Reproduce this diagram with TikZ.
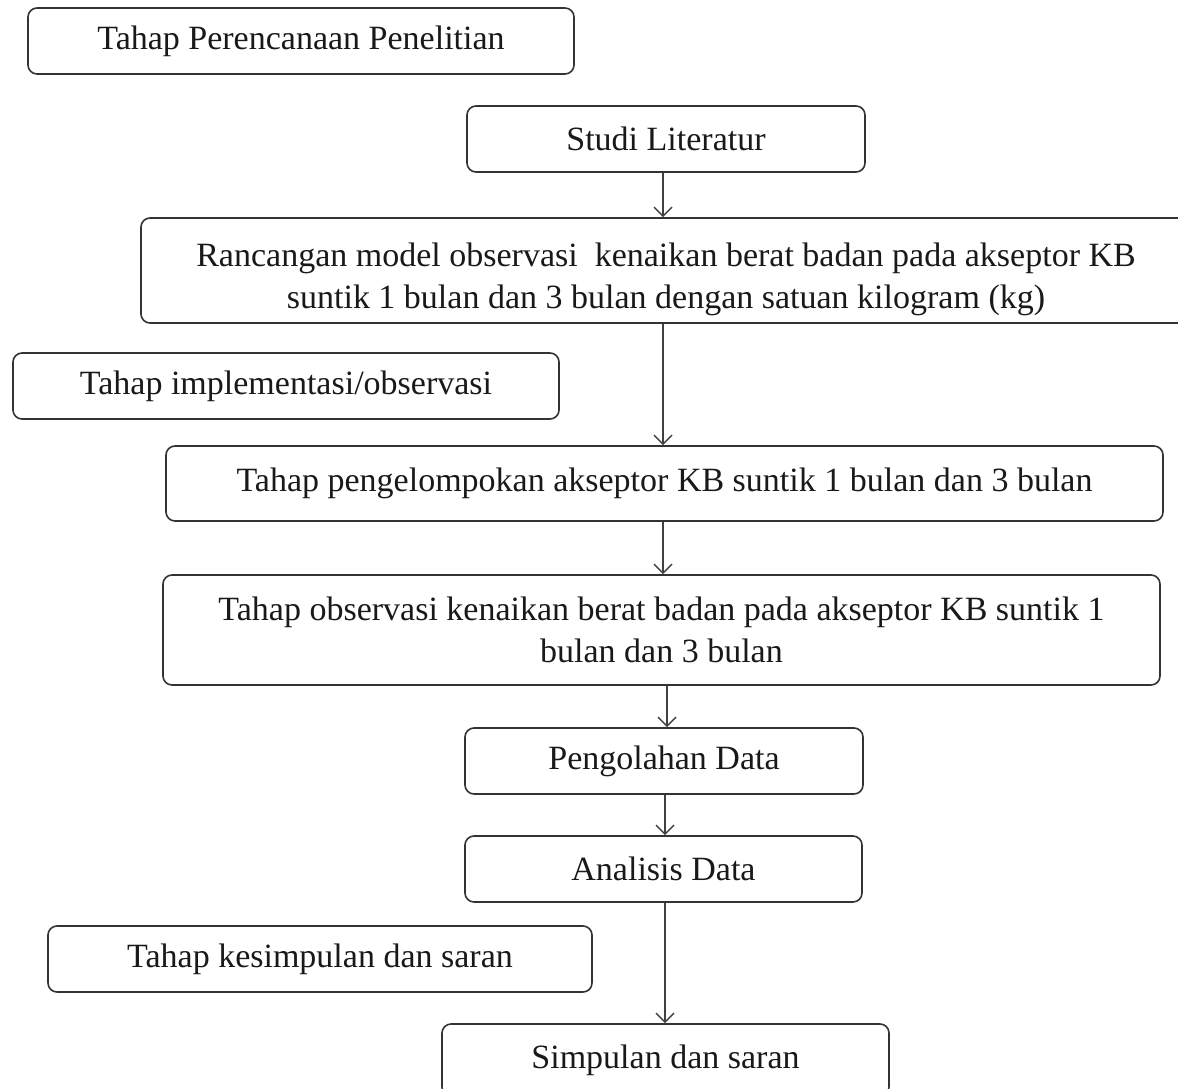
\documentclass[tikz,border=0pt]{standalone}
\usepackage{fontspec}
\setmainfont{Liberation Serif}
\usetikzlibrary{arrows.meta}
\begin{document}
\begin{tikzpicture}[x=1pt,y=1pt,
  box/.style={draw=black!80, line width=1.6pt, rounded corners=9pt, inner sep=0pt,
    font=\fontsize{34}{42}\selectfont, text=black!90},
  conn/.style={draw=black!75, line width=1.4pt, -{Straight Barb[length=9pt,width=18pt,line width=1.4pt]}}]
\useasboundingbox (0,0) rectangle (1178,-1089);
\fill[white] (0,0) rectangle (1178,-1089);
\node[box, minimum width=546pt, minimum height=66pt] (plan) at (301,-41) {Tahap Perencanaan Penelitian};
\node[box, minimum width=398pt, minimum height=66pt] (studi) at (666,-139) {Studi Literatur};
\node[box, minimum width=1050pt, minimum height=105pt, align=center] (ranc) at (666,-270.5)
  {\rule{0pt}{42pt}Rancangan model observasi\ \ kenaikan berat badan pada akseptor KB\\suntik 1 bulan dan 3 bulan dengan satuan kilogram (kg)};
\node[box, minimum width=546pt, minimum height=66pt] (impl) at (286,-386) {Tahap implementasi/observasi};
\node[box, minimum width=997pt, minimum height=75pt] (kelompok) at (664.5,-483.5) {Tahap pengelompokan akseptor KB suntik 1 bulan dan 3 bulan};
\node[box, minimum width=997pt, minimum height=110pt, align=center] (obs) at (661.5,-630)
  {Tahap observasi kenaikan berat badan pada akseptor KB suntik 1\\bulan dan 3 bulan};
\node[box, minimum width=398pt, minimum height=66pt] (olah) at (664,-761) {Pengolahan Data};
\node[box, minimum width=397pt, minimum height=66pt] (anal) at (663.5,-869) {Analisis Data};
\node[box, minimum width=544pt, minimum height=66pt] (kesim) at (320,-959) {Tahap kesimpulan dan saran};
\node[box, minimum width=447pt, minimum height=72pt] (simp) at (665.5,-1060) {Simpulan dan saran};
\draw[conn] (studi.south -| 663,0) -- (ranc.north -| 663,0);
\draw[conn] (ranc.south -| 663,0) -- (kelompok.north -| 663,0);
\draw[conn] (kelompok.south -| 663,0) -- (obs.north -| 663,0);
\draw[conn] (obs.south -| 667,0) -- (olah.north -| 667,0);
\draw[conn] (olah.south -| 665,0) -- (anal.north -| 665,0);
\draw[conn] (anal.south -| 665,0) -- (simp.north -| 665,0);
\end{tikzpicture}
\end{document}
